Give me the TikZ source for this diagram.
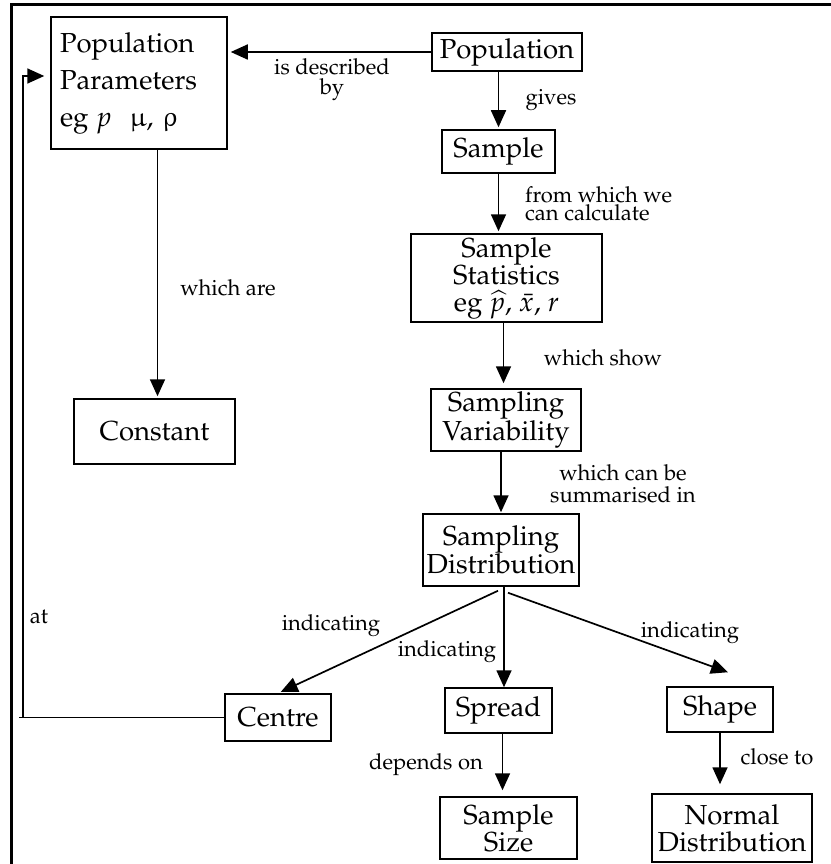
\documentclass[tikz,border=0pt]{standalone}
\usepackage[T1]{fontenc}
\usepackage{mathpazo}
\usepackage{upgreek}
\usetikzlibrary{arrows.meta}
\begin{document}
\begin{tikzpicture}[x=1pt,y=-1pt,
  box/.style={draw,line width=1.5pt,inner sep=0pt,align=center,font=\fontsize{27.5}{27}\selectfont},
  lbl/.style={inner sep=0pt,align=center,font=\fontsize{22}{20}\selectfont},
  arr/.style={line width=1.7pt,-{Triangle[length=17pt,width=15pt]}},
  ln/.style={line width=1.7pt}]
\useasboundingbox (0,0) rectangle (830,864);
\draw[line width=3pt] (845,5) -- (11,5) -- (11,880);

% nodes
\node[box,minimum width=176pt,minimum height=132pt,text width=158pt,align=left,
      font=\fontsize{27.5}{37}\selectfont] (params) at (139,83)
      {Population\\Parameters\\eg \textit{p}\ \ $\upmu$, $\uprho$};
\node[box,minimum width=150pt,minimum height=38pt] (pop) at (507,52) {Population};
\node[box,minimum width=113pt,minimum height=43pt] (sample) at (498.5,151.5) {Sample};
\node[box,minimum width=191pt,minimum height=88pt] (stats) at (506.5,278)
      {Sample\\Statistics\\eg $\widehat{p}$, $\bar{x}$, $r$};
\node[box,minimum width=150pt,minimum height=62pt] (var) at (506,420) {Sampling\\Variability};
\node[box,minimum width=156pt,minimum height=72pt] (dist) at (501,550) {Sampling\\Distribution};
\node[box,minimum width=161pt,minimum height=65pt] (constant) at (154.5,431.5) {Constant};
\node[box,minimum width=106pt,minimum height=47pt] (centre) at (278,717.5) {Centre};
\node[box,minimum width=107pt,minimum height=45pt] (spread) at (498.5,710.5) {Spread};
\node[box,minimum width=106pt,minimum height=45pt] (shape) at (720,709.5) {Shape};
\node[box,minimum width=137pt,minimum height=62pt] (size) at (508.5,828) {Sample\\Size};
\node[box,minimum width=160pt,minimum height=68pt] (normal) at (732,828) {Normal\\Distribution};

% connectors
\draw[arr,shorten >=3pt] (pop.west) -- (pop.west -| params.east);
\node[lbl] (l1) at (332,80) {is described\\by};

\draw[arr,shorten >=2pt] (pop.south -| sample.north) -- (sample.north);
\node[lbl] (l2) at (551,100) {gives};

\draw[arr,shorten >=2pt] (sample.south) -- (sample.south |- stats.north);
\node[lbl,align=left,anchor=west,font=\fontsize{22}{18}\selectfont] (l3) at (525,204) {from which we\\can calculate};

\draw[arr,shorten >=5pt] ([xshift=-3pt]stats.south) -- ([xshift=-3pt]stats.south |- var.north);
\node[lbl] (l4) at (603,358) {which show};

\draw[arr,shorten >=1pt] (var.south -| dist.north) -- (dist.north);
\node[lbl,font=\fontsize{22}{22}\selectfont] (l5) at (623,484) {which can be\\summarised in};

\draw[arr,shorten >=3pt] ([shift={(-3pt,-4pt)}]dist.south) -- (centre.north);
\draw[arr] ([xshift=3pt]dist.south) -- ([xshift=3pt]dist.south |- spread.north);
\draw[arr] ([shift={(7pt,-6pt)}]dist.south) -- ([shift={(8pt,14pt)}]shape.north);
\node[lbl] (l6) at (331,626) {indicating};
\node[lbl] (l7) at (447,652) {indicating};
\node[lbl] (l8) at (690,633) {indicating};

\draw[arr,shorten >=6pt] ([xshift=4pt]spread.south) -- ([xshift=4pt]spread.south |- size.north);
\node[lbl] (l9) at (426,765) {depends on};

\draw[arr,shorten >=9pt] (shape.south) -- (shape.south |- normal.north);
\node[lbl] (l10) at (777,757) {close to};

\draw[arr,shorten >=2pt] (params.south -| constant.north) ++(3pt,0) coordinate (pc) (pc) -- (pc |- constant.north);
\node[lbl] (l11) at (228,288) {which are};

% feedback from Centre to Population Parameters
\coordinate (fbx) at (19,0);
\coordinate (fbcol) at (23,0);
\coordinate (fbend) at ([shift={(-6pt,7pt)}]params.west);
\draw[ln] (centre.west) -- (centre.west -| fbx);
\draw[arr] (centre.west -| fbcol) -- (fbcol |- fbend) -- (fbend);
\node[lbl] (l12) at (39,617) {at};
\end{tikzpicture}
\end{document}
